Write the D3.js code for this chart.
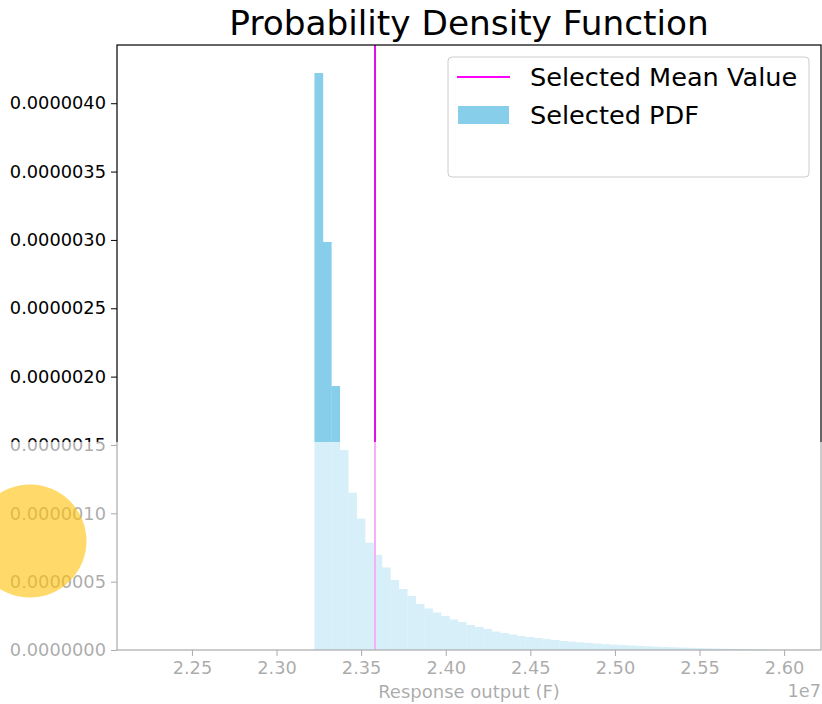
<!DOCTYPE html>
<html>
<head>
<meta charset="utf-8">
<script src="https://cdn.jsdelivr.net/npm/d3@7/dist/d3.min.js"></script>
<style>
    body { margin: 0; background: #fff; }
    svg { display: block; font-family: "DejaVu Sans", sans-serif; }
</style>
</head>
<body>
<svg id="chart" width="822" height="704"></svg>
<script>
// Histogram (density)
const binStart = 23224000;
const binWidth = 49880;
const pdfValues = [
    4.221e-6, 2.985e-6, 1.931e-6, 1.463e-6, 1.151e-6, 0.961e-6, 0.785e-6, 0.695e-6, 0.604e-6, 0.512e-6,
    0.446e-6, 0.395e-6, 0.337e-6, 0.304e-6, 0.274e-6, 0.249e-6, 0.223e-6, 0.205e-6, 0.183e-6, 0.168e-6,
    0.154e-6, 0.135e-6, 0.124e-6, 0.113e-6, 0.102e-6, 0.095e-6, 0.088e-6, 0.080e-6, 0.073e-6, 0.066e-6,
    0.061e-6, 0.056e-6, 0.051e-6, 0.047e-6, 0.043e-6, 0.039e-6, 0.036e-6, 0.033e-6, 0.030e-6, 0.027e-6,
    0.024e-6, 0.022e-6, 0.020e-6, 0.018e-6, 0.016e-6, 0.014e-6, 0.012e-6, 0.011e-6, 0.009e-6, 0.008e-6,
    0.007e-6, 0.006e-6, 0.005e-6, 0.005e-6, 0.004e-6, 0.004e-6, 0.003e-6, 0.003e-6, 0.002e-6, 0.002e-6
];
const meanValue = 23582000;

const xDomain = [22057000, 26218000];
const yDomain = [0, 4.426e-6];
const xTicks = [2.25e7, 2.30e7, 2.35e7, 2.40e7, 2.45e7, 2.50e7, 2.55e7, 2.60e7];
const yTicks = [0, 0.5e-6, 1.0e-6, 1.5e-6, 2.0e-6, 2.5e-6, 3.0e-6, 3.5e-6, 4.0e-6];
const legendLabels = ['Selected Mean Value', 'Selected PDF'];

const W = 822, H = 704;
const plot = { left: 117, right: 821, top: 45, bottom: 650 };
const BAR_COLOR = '#87ceeb';
const MEAN_COLOR = '#e010e8';

const svg = d3.select('#chart');

const x = d3.scaleLinear().domain(xDomain).range([plot.left, plot.right]);
const y = d3.scaleLinear().domain(yDomain).range([plot.bottom, plot.top]);

svg.append('defs').append('clipPath').attr('id', 'plot-clip')
    .append('rect')
    .attr('x', plot.left).attr('y', plot.top)
    .attr('width', plot.right - plot.left).attr('height', plot.bottom - plot.top);

const bins = pdfValues.map((v, i) => ({
    x0: binStart + i * binWidth,
    x1: binStart + (i + 1) * binWidth,
    v
}));

const g = svg.append('g').attr('clip-path', 'url(#plot-clip)');

g.selectAll('rect.bar')
    .data(bins)
    .join('rect')
    .attr('class', 'bar')
    .attr('x', d => x(d.x0))
    .attr('width', d => x(d.x1) - x(d.x0) + 0.3)
    .attr('y', d => y(d.v))
    .attr('height', d => y(0) - y(d.v))
    .attr('fill', BAR_COLOR);

g.append('line')
    .attr('x1', x(meanValue)).attr('x2', x(meanValue))
    .attr('y1', plot.top).attr('y2', plot.bottom)
    .attr('stroke', MEAN_COLOR)
    .attr('stroke-width', 2);

// Axes
const xAxis = d3.axisBottom(x)
    .tickValues(xTicks)
    .tickSize(6)
    .tickPadding(5)
    .tickFormat(d => (d / 1e7).toFixed(2));

const yAxis = d3.axisLeft(y)
    .tickValues(yTicks)
    .tickSize(6)
    .tickPadding(5)
    .tickFormat(d => d.toFixed(7));

function styleAxis(sel) {
    sel.select('.domain').remove();
    sel.selectAll('.tick line').attr('stroke', '#000');
    sel.selectAll('.tick text')
        .attr('fill', '#000')
        .style('font-size', '17.8px')
        .style('font-family', '"DejaVu Sans", sans-serif');
}

svg.append('g')
    .attr('transform', `translate(0,${plot.bottom})`)
    .call(xAxis)
    .call(styleAxis);

svg.append('g')
    .attr('transform', `translate(${plot.left},0)`)
    .call(yAxis)
    .call(styleAxis);

// Spines
svg.append('rect')
    .attr('x', plot.left).attr('y', plot.top)
    .attr('width', plot.right - plot.left).attr('height', plot.bottom - plot.top)
    .attr('fill', 'none')
    .attr('stroke', '#000')
    .attr('stroke-width', 1.2);

// Title and labels
svg.append('text')
    .attr('x', (plot.left + plot.right) / 2)
    .attr('y', 35)
    .attr('text-anchor', 'middle')
    .style('font-size', '34.3px')
    .text('Probability Density Function');

svg.append('text')
    .attr('x', (plot.left + plot.right) / 2)
    .attr('y', 698)
    .attr('text-anchor', 'middle')
    .style('font-size', '18px')
    .text('Response output (F)');

svg.append('text')
    .attr('x', plot.right)
    .attr('y', 697)
    .attr('text-anchor', 'end')
    .style('font-size', '17.8px')
    .text('1e7');

// Legend
const legend = svg.append('g').attr('transform', 'translate(448,57)');
legend.append('rect')
    .attr('width', 361).attr('height', 120)
    .attr('rx', 4)
    .attr('fill', '#fff').attr('fill-opacity', 0.8)
    .attr('stroke', '#cccccc');
legend.append('line')
    .attr('x1', 9).attr('x2', 62)
    .attr('y1', 20).attr('y2', 20)
    .attr('stroke', '#ff00ff').attr('stroke-width', 2);
legend.append('rect')
    .attr('x', 10).attr('y', 49)
    .attr('width', 51).attr('height', 18)
    .attr('fill', BAR_COLOR);
legend.selectAll('text.lbl')
    .data(legendLabels)
    .join('text')
    .attr('class', 'lbl')
    .attr('x', 82)
    .attr('y', (d, i) => 29 + i * 38)
    .style('font-size', '25.6px')
    .text(d => d);

// Faded lower band and highlight marker on top
svg.append('rect')
    .attr('x', 0).attr('y', y(1.5e-6) - 3)
    .attr('width', W).attr('height', H)
    .attr('fill', '#fff')
    .attr('fill-opacity', 0.67);

svg.append('circle')
    .attr('cx', 30).attr('cy', 541)
    .attr('r', 56.5)
    .attr('fill', '#ffc107')
    .attr('fill-opacity', 0.6);
</script>
</body>
</html>
